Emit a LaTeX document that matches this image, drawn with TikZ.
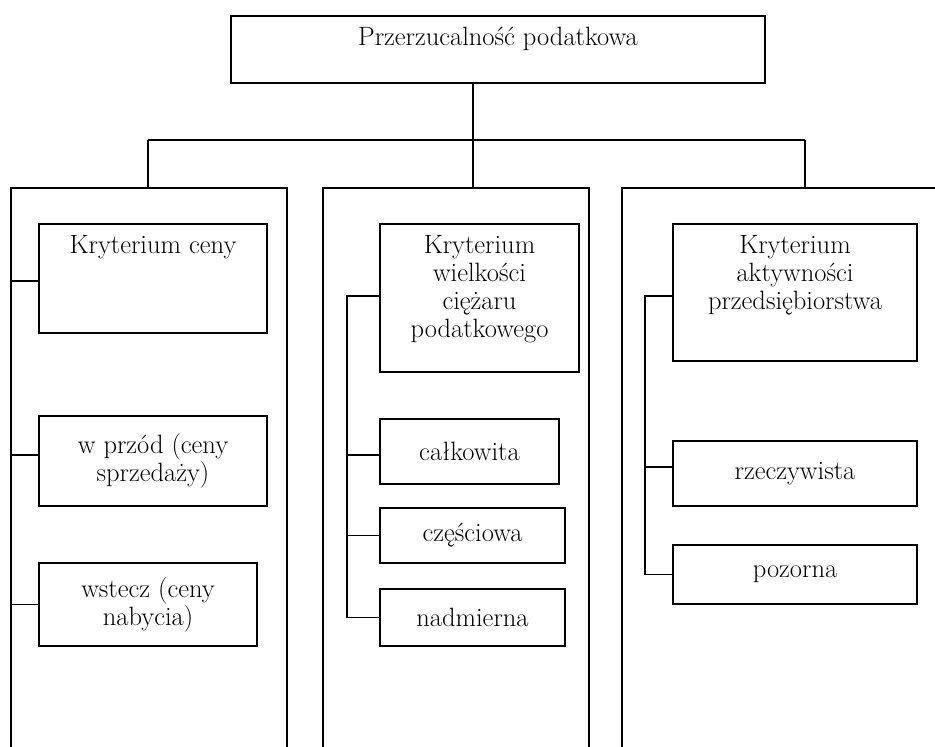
\documentclass[tikz,border=0pt]{standalone}
\usepackage{fontspec}
\usepackage{tikz}
\usetikzlibrary{positioning}

\begin{document}
\begin{tikzpicture}[
        x=1pt, y=-1pt,
        wire/.style={line width=1.4pt},
        box/.style={rectangle, draw, line width=1.4pt, inner sep=0pt, align=center, font=\fontsize{26.5}{28}\selectfont},
        toptext/.style={anchor=north, inner sep=0pt, yshift=-12pt, align=center, font=\fontsize{26.5}{28}\selectfont}
    ]
        \useasboundingbox (0,0) rectangle (935,747);

        % Main box
        \node[box, minimum width=534, minimum height=67, label={[toptext]north:Przerzucalność podatkowa}] (root) at (498,49.5) {};

        % Bus and columns
        \coordinate (bus) at (473,140);
        \coordinate (c1) at (11,188);
        \coordinate (c2) at (323,188);
        \coordinate (c3) at (622,188);
        \draw[wire] (c1 |- 0,747) -- (c1) -- (287,188) -- (287,747);
        \draw[wire] (c2 |- 0,747) -- (c2) -- (589,188) -- (589,747);
        \draw[wire] (c3 |- 0,747) -- (c3) -- (940,188);

        \draw[wire] (root.south -| bus) -- (bus);
        \draw[wire] (148,140) -- (805,140);
        \draw[wire] (148,140) -- (148,188);
        \draw[wire] (bus) -- (473,188);
        \draw[wire] (805,140) -- (805,188);

        % Left column
        \node[box, minimum width=228, minimum height=109, label={[toptext]north:Kryterium ceny}] (kc) at (153,278.5) {};
        \node[box, minimum width=228, minimum height=90] (wp) at (153,461) {w przód (ceny\\sprzedaży)};
        \node[box, minimum width=218, minimum height=83] (ws) at (148,604.5) {wstecz (ceny\\nabycia)};

        % Middle column
        \node[box, minimum width=199, minimum height=148, label={[toptext]north:Kryterium\\wielkości\\ciężaru\\podatkowego}] (kw) at (479.5,298) {};
        \node[box, minimum width=179, minimum height=65] (ck) at (469.5,451.5) {całkowita};
        \node[box, minimum width=185, minimum height=55] (cz) at (472.5,535.5) {częściowa};
        \node[box, minimum width=185, minimum height=57] (nm) at (472.5,617.5) {nadmierna};

        % Right column
        \node[box, minimum width=244, minimum height=137, label={[toptext]north:Kryterium\\aktywności\\przedsiębiorstwa}] (ka) at (795,292.5) {};
        \node[box, minimum width=244, minimum height=65] (rz) at (795,473.5) {rzeczywista};
        \node[box, minimum width=244, minimum height=59] (pz) at (795,574.5) {pozorna};

        % Branches
        \coordinate (s2) at (347,0);
        \coordinate (s3) at (645,0);
        \draw[wire] ([yshift=-2.5pt]kc.west) -- ([yshift=-2.5pt]kc.west -| c1);
        \draw[wire] ([yshift=6pt]wp.west) -- ([yshift=6pt]wp.west -| c1);
        \draw[wire] (ws.west) -- (ws.west -| c1);
        \draw[wire] ([yshift=2pt]kw.west) -- ([yshift=2pt]kw.west -| s2) |- (nm.west);
        \draw[wire] ([yshift=-3.5pt]ck.west) -- ([yshift=-3.5pt]ck.west -| s2);
        \draw[wire] (cz.west) -- (cz.west -| s2);
        \draw[wire] ([yshift=-3.5pt]ka.west) -- ([yshift=-3.5pt]ka.west -| s3) |- (pz.west);
        \draw[wire] ([yshift=6.5pt]rz.west) -- ([yshift=6.5pt]rz.west -| s3);
    \end{tikzpicture}
\end{document}
